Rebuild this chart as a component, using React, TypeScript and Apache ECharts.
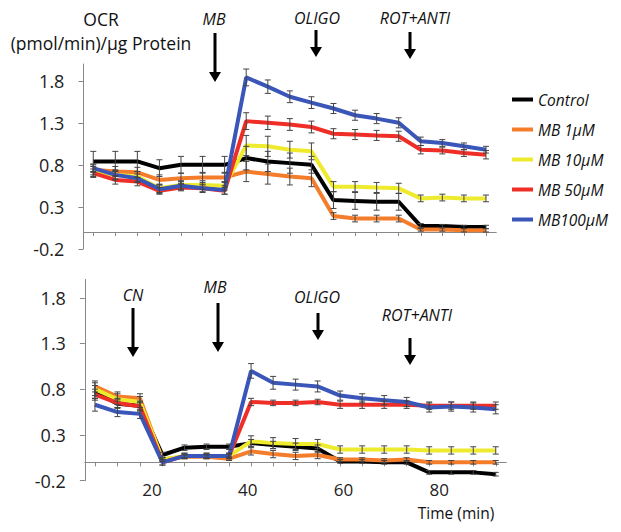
import React, { useEffect, useRef } from "react";
import * as echarts from "echarts";

const times = [8.1, 12.8, 17.5, 22.2, 26.8, 31.4, 36.1, 40.7, 45.3, 50.0, 54.6, 59.3, 63.9, 68.5, 73.2, 77.9, 82.5, 87.1, 91.8];

const seriesNames = ["Control", "MB 1µM", "MB 10µM", "MB 50µM", "MB100µM"];
const seriesColors = ["#000000", "#f47d2c", "#eeea2e", "#ef2f27", "#3a56b8"];

const topControl = [0.84, 0.84, 0.84, 0.76, 0.8, 0.8, 0.8, 0.88, 0.84, 0.82, 0.8, 0.38, 0.37, 0.36, 0.36, 0.07, 0.07, 0.06, 0.06];
const topMB1 = [0.74, 0.72, 0.71, 0.62, 0.64, 0.65, 0.65, 0.72, 0.69, 0.66, 0.64, 0.19, 0.16, 0.16, 0.16, 0.03, 0.03, 0.02, 0.02];
const topMB10 = [0.72, 0.68, 0.66, 0.52, 0.56, 0.56, 0.55, 1.03, 1.02, 0.98, 0.96, 0.54, 0.54, 0.53, 0.52, 0.4, 0.41, 0.4, 0.4];
const topMB50 = [0.7, 0.62, 0.6, 0.49, 0.53, 0.52, 0.49, 1.32, 1.3, 1.28, 1.25, 1.17, 1.16, 1.15, 1.14, 0.98, 0.97, 0.94, 0.92];
const topMB100 = [0.76, 0.68, 0.64, 0.51, 0.55, 0.52, 0.5, 1.84, 1.73, 1.61, 1.54, 1.47, 1.39, 1.35, 1.3, 1.08, 1.06, 1.02, 0.98];

const topErrControl = [0.12, 0.12, 0.12, 0.1, 0.1, 0.1, 0.1, 0.14, 0.12, 0.12, 0.1, 0.1, 0.1, 0.1, 0.1, 0.03, 0.02, 0.02, 0.02];
const topErrMB1 = [0.06, 0.06, 0.06, 0.06, 0.06, 0.06, 0.06, 0.12, 0.12, 0.1, 0.1, 0.04, 0.04, 0.04, 0.04, 0.02, 0.02, 0.02, 0.02];
const topErrMB10 = [0.06, 0.06, 0.06, 0.05, 0.05, 0.05, 0.05, 0.12, 0.12, 0.1, 0.1, 0.06, 0.06, 0.06, 0.06, 0.04, 0.04, 0.04, 0.04];
const topErrMB50 = [0.05, 0.05, 0.05, 0.04, 0.04, 0.04, 0.04, 0.1, 0.08, 0.07, 0.07, 0.06, 0.06, 0.06, 0.06, 0.05, 0.04, 0.04, 0.05];
const topErrMB100 = [0.05, 0.05, 0.05, 0.05, 0.05, 0.05, 0.05, 0.1, 0.08, 0.07, 0.07, 0.06, 0.06, 0.06, 0.06, 0.05, 0.04, 0.04, 0.04];

const botControl = [0.77, 0.64, 0.62, 0.08, 0.16, 0.17, 0.17, 0.21, 0.19, 0.17, 0.15, 0.01, 0.01, 0.0, 0.0, -0.11, -0.11, -0.11, -0.13];
const botMB1 = [0.83, 0.72, 0.7, 0.03, 0.06, 0.06, 0.04, 0.12, 0.09, 0.07, 0.08, 0.03, 0.03, 0.02, 0.03, 0.0, 0.0, 0.0, 0.0];
const botMB10 = [0.8, 0.69, 0.66, 0.03, 0.07, 0.07, 0.07, 0.23, 0.21, 0.2, 0.2, 0.14, 0.14, 0.14, 0.14, 0.13, 0.13, 0.13, 0.13];
const botMB50 = [0.74, 0.65, 0.61, 0.0, 0.07, 0.07, 0.07, 0.66, 0.65, 0.65, 0.66, 0.63, 0.63, 0.63, 0.63, 0.62, 0.62, 0.62, 0.62];
const botMB100 = [0.63, 0.55, 0.53, 0.0, 0.07, 0.07, 0.07, 1.0, 0.87, 0.85, 0.83, 0.73, 0.7, 0.68, 0.66, 0.6, 0.61, 0.6, 0.58];

const botErrControl = [0.07, 0.05, 0.05, 0.03, 0.03, 0.03, 0.03, 0.04, 0.04, 0.04, 0.04, 0.02, 0.02, 0.02, 0.02, 0.02, 0.02, 0.02, 0.02];
const botErrMB1 = [0.06, 0.05, 0.05, 0.02, 0.02, 0.02, 0.02, 0.04, 0.04, 0.04, 0.04, 0.02, 0.02, 0.02, 0.02, 0.02, 0.02, 0.02, 0.02];
const botErrMB10 = [0.07, 0.06, 0.06, 0.02, 0.02, 0.02, 0.02, 0.06, 0.06, 0.06, 0.05, 0.04, 0.04, 0.04, 0.04, 0.04, 0.04, 0.04, 0.04];
const botErrMB50 = [0.06, 0.05, 0.05, 0.03, 0.03, 0.03, 0.03, 0.04, 0.03, 0.03, 0.03, 0.04, 0.04, 0.04, 0.04, 0.04, 0.04, 0.04, 0.04];
const botErrMB100 = [0.07, 0.05, 0.05, 0.03, 0.03, 0.03, 0.03, 0.08, 0.07, 0.06, 0.06, 0.05, 0.05, 0.05, 0.05, 0.05, 0.05, 0.05, 0.05];

const yTickValues = [-0.2, 0.3, 0.8, 1.3, 1.8];
const xLabelValues = [20, 40, 60, 80];

const topValues = [topControl, topMB1, topMB10, topMB50, topMB100];
const topErrors = [topErrControl, topErrMB1, topErrMB10, topErrMB50, topErrMB100];
const botValues = [botControl, botMB1, botMB10, botMB50, botMB100];
const botErrors = [botErrControl, botErrMB1, botErrMB10, botErrMB50, botErrMB100];

const FONT = "Open Sans";

function arrow(x: number, y1: number, y2: number) {
  return {
    type: "group",
    children: [
      { type: "line", shape: { x1: x, y1: y1, x2: x, y2: y2 - 8 }, style: { stroke: "#000", lineWidth: 3 } },
      {
        type: "polygon",
        shape: { points: [[x - 6, y2 - 10], [x + 6, y2 - 10], [x, y2]] },
        style: { fill: "#000" },
      },
    ],
  };
}

function label(text: string, x: number, y: number, italic = true, size = 16) {
  return {
    type: "text",
    x,
    y,
    style: {
      text,
      fill: "#111",
      font: `${italic ? "italic " : ""}${size}px '${FONT}'`,
      align: "center",
      verticalAlign: "middle",
    },
  };
}

export default function App() {
  const ref = useRef<HTMLDivElement>(null);
  useEffect(() => {
    if (!ref.current) return;
    const chart = echarts.init(ref.current, null, { renderer: "svg" });

    const grids = [
      { left: 83.4, top: 64, width: 412.9, height: 184.8 },
      { left: 84.9, top: 279.5, width: 421.4, height: 201.1 },
    ];

    const xAxes: any[] = [];
    const yAxes: any[] = [];
    [0, 1].forEach((g) => {
      xAxes.push({
        type: "value",
        gridIndex: g,
        min: 6,
        max: 94,
        position: "bottom",
        axisLine: { show: false, onZero: false },
        axisTick: { show: false },
        splitLine: { show: false },
        axisLabel: {
          show: g === 1,
          customValues: xLabelValues,
          margin: 0,
          fontSize: 17,
          fontFamily: FONT,
          color: "#222",
        },
      });
      xAxes.push({
        type: "value",
        gridIndex: g,
        min: 6,
        max: 94,
        position: "top",
        axisLine: { show: true, onZero: true, lineStyle: { color: "#888", width: 1 } },
        axisTick: { show: true, inside: true, length: 4, customValues: times, lineStyle: { color: "#888" } },
        axisLabel: { show: false },
        splitLine: { show: false },
      });
      yAxes.push({
        type: "value",
        gridIndex: g,
        min: -0.2,
        max: 2.0,
        axisLine: { show: true, onZero: false, lineStyle: { color: "#888", width: 1 } },
        axisTick: { show: true, length: 5, customValues: yTickValues, lineStyle: { color: "#888" } },
        axisLabel: {
          customValues: yTickValues,
          margin: 19,
          fontSize: 18,
          fontFamily: FONT,
          color: "#222",
          formatter: (v: number) => v.toFixed(1),
        },
        splitLine: { show: false },
      });
    });

    const series: any[] = [];
    const panels = [
      { values: topValues, errors: topErrors },
      { values: botValues, errors: botErrors },
    ];
    panels.forEach((p, g) => {
      p.values.forEach((vals, i) => {
        series.push({
          type: "line",
          name: seriesNames[i],
          xAxisIndex: g * 2,
          yAxisIndex: g,
          data: times.map((t, k) => [t, vals[k]]),
          showSymbol: false,
          symbol: "none",
          lineStyle: { color: seriesColors[i], width: 4 },
          itemStyle: { color: seriesColors[i] },
          z: 2 + i,
        });
      });
    });
    panels.forEach((p, g) => {
      p.values.forEach((vals, i) => {
        series.push({
          type: "custom",
          name: "err-" + g + "-" + i,
          xAxisIndex: g * 2,
          yAxisIndex: g,
          z: 10,
          data: times.map((t, k) => [t, vals[k], p.errors[i][k]]),
          encode: { x: 0, y: 1 },
          renderItem: (params: any, api: any) => {
            const x = api.value(0);
            const v = api.value(1);
            const e = api.value(2);
            const hi = api.coord([x, v + e]);
            const lo = api.coord([x, v - e]);
            const c = 3;
            const st = { stroke: "#444", lineWidth: 1 };
            return {
              type: "group",
              children: [
                { type: "line", shape: { x1: hi[0], y1: hi[1], x2: lo[0], y2: lo[1] }, style: st },
                { type: "line", shape: { x1: hi[0] - c, y1: hi[1], x2: hi[0] + c, y2: hi[1] }, style: st },
                { type: "line", shape: { x1: lo[0] - c, y1: lo[1], x2: lo[0] + c, y2: lo[1] }, style: st },
              ],
            };
          },
        });
      });
    });

    chart.setOption({
      animation: false,
      backgroundColor: "#fff",
      grid: grids.map((gr) => ({ ...gr, containLabel: false, outerBoundsMode: "none" })),
      xAxis: xAxes,
      yAxis: yAxes,
      legend: {
        data: seriesNames.map((n, i) => ({ name: n, icon: "rect", itemStyle: { color: seriesColors[i] } })),
        orient: "vertical",
        left: 512,
        top: 91.5,
        padding: 0,
        itemWidth: 21,
        itemHeight: 4,
        itemGap: 14,
        selectedMode: false,
        textStyle: { fontSize: 15.5, lineHeight: 15, fontStyle: "italic", fontFamily: FONT, color: "#111" },
      },
      graphic: [
        label("OCR", 101, 19, false, 17.5),
        label("(pmol/min)/µg Protein", 101, 43, false, 17.5),
        label("MB", 214, 19),
        arrow(215, 33, 82),
        label("OLIGO", 317, 18),
        arrow(316, 30, 57),
        label("ROT+ANTI", 415, 18),
        arrow(410, 32, 59),
        label("CN", 133, 295),
        arrow(133, 308, 357),
        label("MB", 215, 287),
        arrow(218, 303, 352),
        label("OLIGO", 317, 297),
        arrow(318, 313, 340),
        label("ROT+ANTI", 417, 315),
        arrow(410, 338, 365),
        label("Time (min)", 456, 513, false, 15.5),
      ],
      series,
    });
    return () => chart.dispose();
  }, []);
  return <div ref={ref} style={{ position: "fixed", left: 0, top: 0, width: 621, height: 532 }} />;
}
